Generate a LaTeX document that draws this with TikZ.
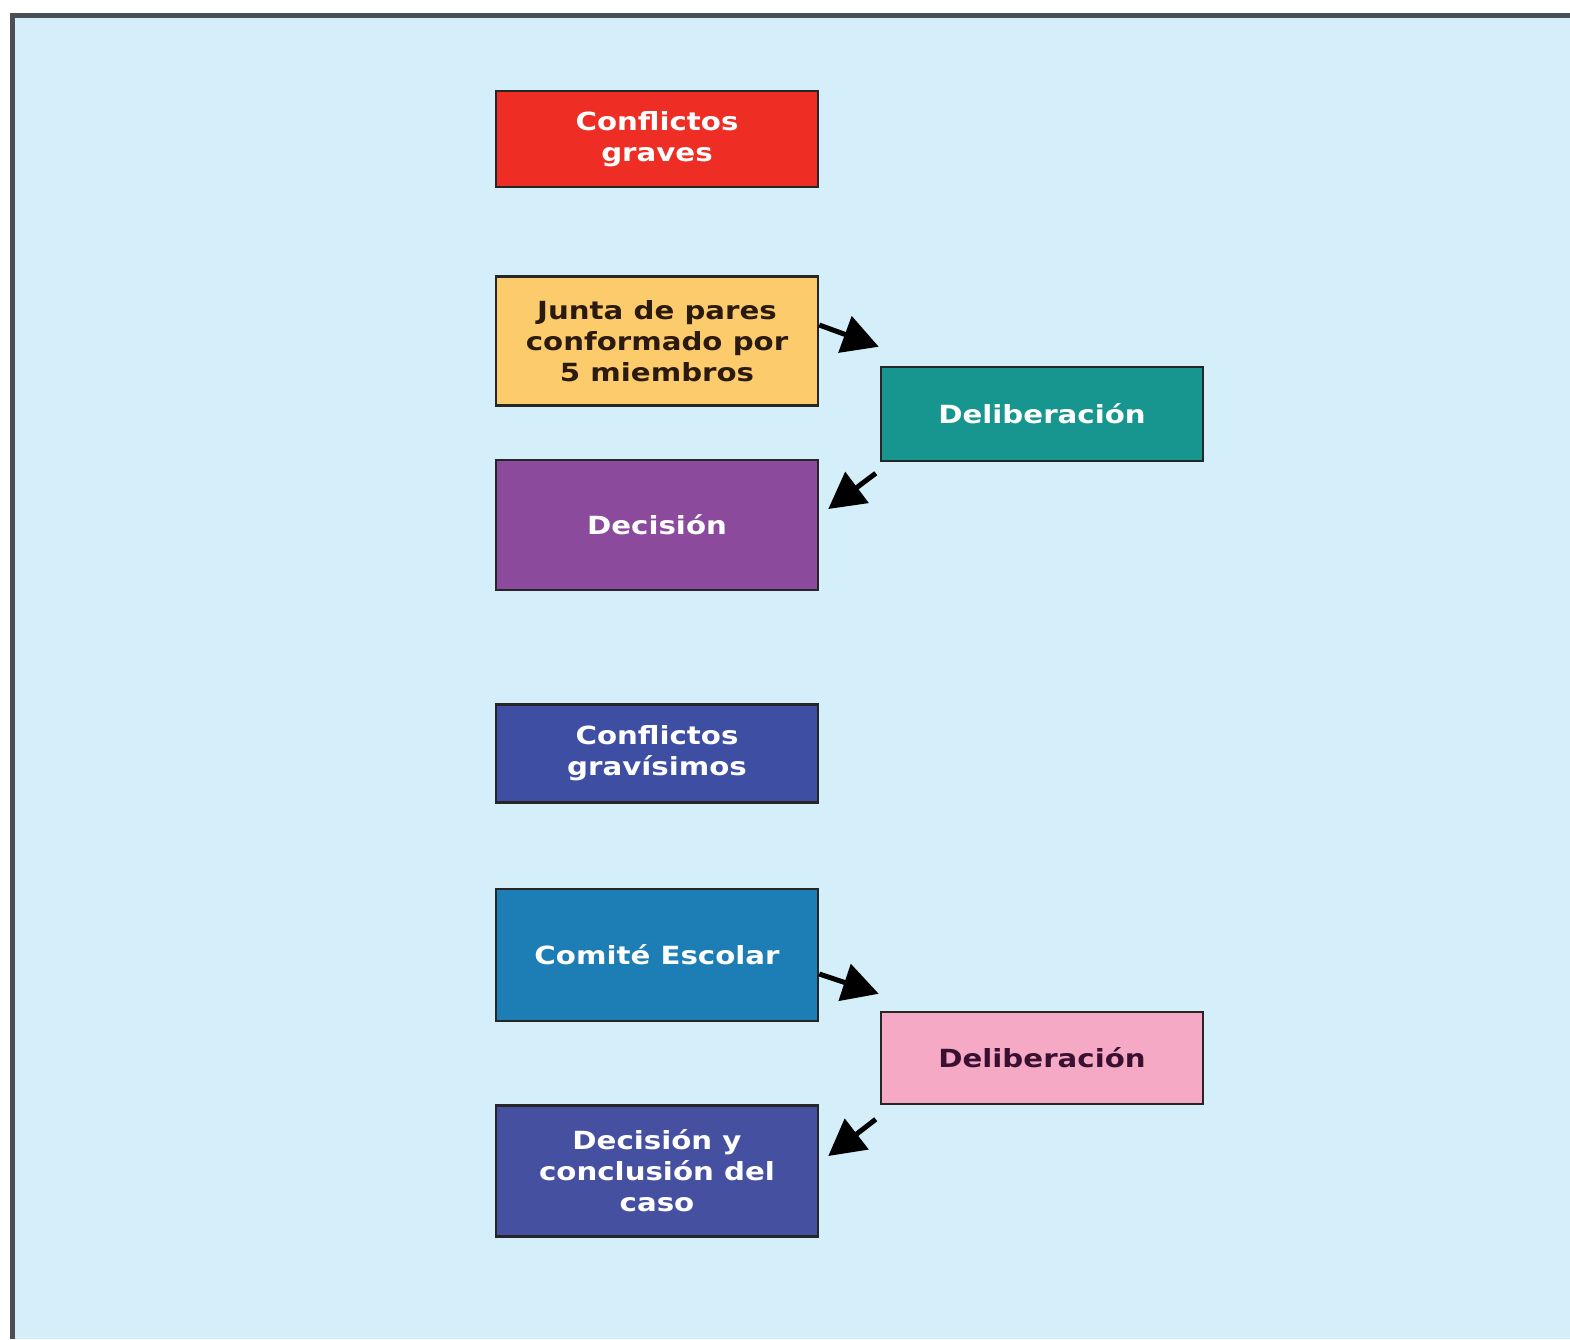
\documentclass[tikz,border=0pt]{standalone}
\usepackage{fontspec}
\setmainfont{DejaVu Sans}[FakeStretch=1.17]
\usetikzlibrary{positioning,arrows.meta}

\definecolor{fondo}{HTML}{D4EFFA}
\definecolor{marco}{HTML}{4A4F55}
\definecolor{rojo}{HTML}{EE2E24}
\definecolor{amarillo}{HTML}{FCCB6B}
\definecolor{turquesa}{HTML}{17968F}
\definecolor{morado}{HTML}{8B4A9C}
\definecolor{azul}{HTML}{3E4FA3}
\definecolor{celeste}{HTML}{1D7EB6}
\definecolor{rosa}{HTML}{F6A9C5}
\definecolor{indigo}{HTML}{4650A0}
\definecolor{tinta}{HTML}{2A1A10}
\definecolor{vino}{HTML}{3A1030}

\begin{document}
\begin{tikzpicture}[x=1pt,y=-1pt,
caja/.style={shape=rectangle,draw={black!85},line width=2.5pt,minimum width=322pt,
  align=center,text=white,inner sep=0pt,
  node font={\fontsize{25}{31}\selectfont\bfseries}},
flecha/.style={line width=5pt,-{Triangle[length=36pt,width=38pt]}}]
\useasboundingbox (0,0) rectangle (1570,1339);
% fondo y marco
\fill[fondo] (12,15) rectangle (1570,1339);
\draw[marco,line width=5pt] (12,1339) -- (12,15) -- (1570,15);

% conflictos graves
\node[caja,fill=rojo,minimum height=96pt] (graves) at (657,139){Conflictos\\graves};
\node[caja,fill=amarillo,text=tinta,minimum height=129pt,below=87pt of graves] (junta)
  {Junta de pares\\conformado por\\5 miembros};
\node[caja,fill=morado,minimum height=130pt,below=52pt of junta] (decision){Decisión};
\node[caja,fill=turquesa,minimum height=94pt] (delib1) at (1042,414){Deliberación};

% conflictos gravisimos
\node[caja,fill=azul,minimum height=98pt,below=112pt of decision] (gravisimos)
  {Conflictos\\gravísimos};
\node[caja,fill=celeste,minimum height=132pt,below=84pt of gravisimos] (comite){Comité Escolar};
\node[caja,fill=indigo,minimum height=131pt,below=82pt of comite] (conclusion)
  {Decisión y\\conclusión del\\caso};
\node[caja,fill=rosa,text=vino,minimum height=92pt] (delib2) at (1042,1058){Deliberación};

\draw[flecha] ([yshift=16pt]junta.east) -- ([xshift=-1pt,yshift=19pt]delib1.north west);
\draw[flecha] ([xshift=-4pt,yshift=-11pt]delib1.south west) -- ([xshift=9pt,yshift=16pt]decision.east);
\draw[flecha] ([yshift=-19pt]comite.east) -- ([xshift=-1pt,yshift=17pt]delib2.north west);
\draw[flecha] ([xshift=-4pt,yshift=-14pt]delib2.south west) -- ([xshift=9pt,yshift=15pt]conclusion.east);
\end{tikzpicture}
\end{document}
